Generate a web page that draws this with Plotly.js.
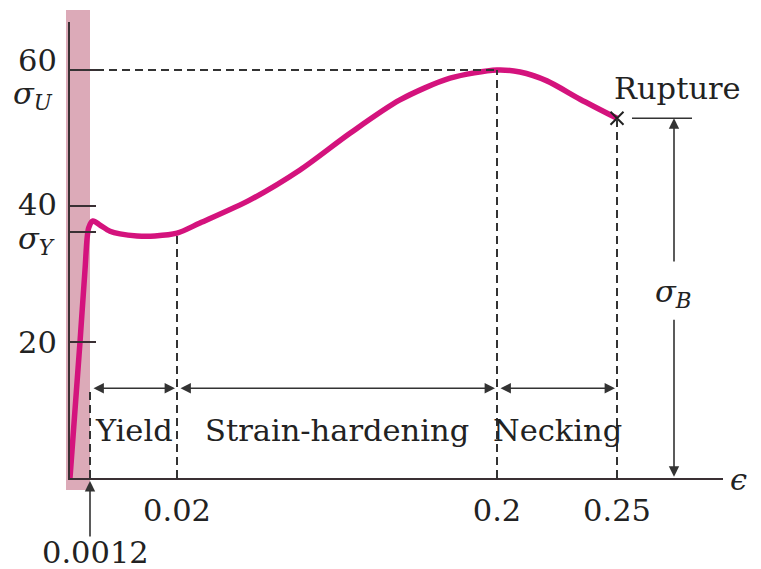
<!DOCTYPE html>
<html>
<head>
<meta charset="utf-8">
<script src="https://cdn.plot.ly/plotly-3.0.1.min.js"></script>
<style>html,body{margin:0;padding:0;background:#fff;}#chart{width:761px;height:569px;}</style>
</head>
<body>
<div id="chart"></div>
<script>
// ---- data ----
const strain = [0, 0.0006, 0.0009, 0.00112, 0.00185, 0.00336, 0.00552, 0.00768, 0.01136, 0.01524, 0.02, 0.0329, 0.0611, 0.0892, 0.1173, 0.1454, 0.1736, 0.2, 0.2096, 0.2208, 0.2346, 0.25];
const stress = [0, 20, 30.6, 36.8, 37.8, 37.2, 36.3, 35.9, 35.6, 35.6, 36.0, 37.5, 40.9, 45.3, 50.7, 55.6, 58.8, 60, 59.7, 58.4, 55.7, 52.9];
const keyStrains = [0.0012, 0.02, 0.2, 0.25];
const keyStrainLabels = ['0.0012', '0.02', '0.2', '0.25'];
const yTickValues = [20, 40, 60];
const yTickLabels = ['20', '40', '60'];
const yieldStress = 36.2;     // sigma_Y
const ultimateStress = 60;    // sigma_U
const ruptureStrain = [0.25];
const ruptureStress = [52.9]; // sigma_B
const regionNames = ['Yield', 'Strain-hardening', 'Necking'];
const regionStart = [0.0012, 0.02, 0.2];
const regionEnd = [0.02, 0.2, 0.25];

// ---- non-linear (schematic) strain axis: piecewise mapping ----
const mapKnotsStrain = [0, 0.0012, 0.02, 0.2, 0.25];
const mapKnotsPos = [0, 20, 107, 427, 547];
function sx(e) {
  const k = mapKnotsStrain, p = mapKnotsPos;
  for (let i = 0; i < k.length - 1; i++) {
    if (e <= k[i + 1]) return p[i] + (e - k[i]) / (k[i + 1] - k[i]) * (p[i + 1] - p[i]);
  }
  const n = k.length - 1;
  return p[n] + (e - k[n]) / (k[n] - k[n - 1]) * (p[n] - p[n - 1]);
}
function stressAt(e) { return stress[strain.indexOf(e)]; }

// ---- layout geometry ----
const L = 70, T = 22, W = 653, H = 456;   // plot area in px
const XR = [0, W], YR = [0, 67.06];
const px = x => (x - L) / W;              // page px -> paper
const py = y => (T + H - y) / H;
const FONT = 'DejaVu Serif, serif';
const FS = 30.5;
const INK = '#222';
const AX = '#3a3034';
const arrowY = 13.2, labelY = 7.0;

const shapes = [];
// pink elastic band
shapes.push({type: 'rect', xref: 'paper', yref: 'paper', x0: px(66), x1: sx(0.0012) / W, y0: py(490), y1: py(10),
  fillcolor: '#dcaab8', line: {width: 0}, layer: 'below'});
const dash = {color: '#333', width: 2, dash: '8px,5px'};
shapes.push({type: 'line', x0: sx(keyStrains[0]), x1: sx(keyStrains[0]), y0: 0, y1: arrowY, line: dash});
shapes.push({type: 'line', x0: sx(keyStrains[1]), x1: sx(keyStrains[1]), y0: 0, y1: stressAt(keyStrains[1]), line: dash});
shapes.push({type: 'line', x0: sx(keyStrains[2]), x1: sx(keyStrains[2]), y0: 0, y1: ultimateStress, line: dash});
shapes.push({type: 'line', x0: sx(keyStrains[3]), x1: sx(keyStrains[3]), y0: 0, y1: ruptureStress[0], line: dash});
shapes.push({type: 'line', x0: 0, x1: sx(0.2), y0: ultimateStress, y1: ultimateStress, line: dash});
shapes.push({type: 'line', x0: 562, x1: 622, y0: ruptureStress[0], y1: ruptureStress[0], line: {color: '#333', width: 1.5}});

const txt = (x, y, text, xanchor) => ({x: x, y: y, xref: 'paper', yref: 'paper', xanchor: xanchor || 'center',
  yanchor: 'middle', text: text, showarrow: false, font: {family: FONT, size: FS, color: INK}});
const arrowCommon = {text: '', showarrow: true, arrowhead: 2, arrowsize: 1.3, arrowwidth: 1.6, arrowcolor: '#333'};

const annotations = [];
for (let i = 0; i < regionNames.length; i++) {
  const a = sx(regionStart[i]) + 2, b = sx(regionEnd[i]) - 2;
  annotations.push(Object.assign({x: b, y: arrowY, ax: a, ay: arrowY, xref: 'x', yref: 'y', axref: 'x', ayref: 'y',
    arrowside: 'end+start'}, arrowCommon));
  annotations.push({x: (sx(regionStart[i]) + sx(regionEnd[i])) / 2, y: labelY, xref: 'x', yref: 'y',
    xanchor: 'center', yanchor: 'middle', text: regionNames[i], showarrow: false, font: {family: FONT, size: FS, color: INK}});
}
// sigma_B arrows
const xB = 604;
annotations.push(Object.assign({x: xB, y: ruptureStress[0], ax: xB, ay: 31.6, xref: 'x', yref: 'y', axref: 'x', ayref: 'y'}, arrowCommon));
annotations.push(Object.assign({x: xB, y: 0.2, ax: xB, ay: 23.5, xref: 'x', yref: 'y', axref: 'x', ayref: 'y'}, arrowCommon));
annotations.push(txt(px(673), py(293), '<i>σ</i><sub><i>B</i></sub>'));
annotations.push(txt(px(677), py(88), 'Rupture'));
// y labels
for (let i = 0; i < yTickValues.length; i++) {
  const yy = yTickValues[i] === ultimateStress ? py(60) : (yTickValues[i] === 40 ? py(204) : py(T + H - yTickValues[i] * H / YR[1]));
  annotations.push(txt(px(59), yy, yTickLabels[i], 'right'));
}
annotations.push(txt(px(55), py(95), '<i>σ</i><sub><i>U</i></sub>', 'right'));
annotations.push(txt(px(57), py(240), '<i>σ</i><sub><i>Y</i></sub>', 'right'));
// 0.0012 label with arrow
annotations.push(Object.assign({x: sx(keyStrains[0]) / W, y: py(481), xref: 'paper', yref: 'paper', ax: 0, ay: 57}, arrowCommon));
annotations.push(txt(px(95), py(552), keyStrainLabels[0]));
// epsilon
annotations.push(txt(px(739), py(480), '<i>ϵ</i>'));

const traces = [
  {x: strain.map(sx), y: stress, type: 'scatter', mode: 'lines',
   line: {color: '#d4137d', width: 5.5, shape: 'spline', smoothing: 0.8}, hoverinfo: 'skip'},
  {x: ruptureStrain.map(sx), y: ruptureStress, type: 'scatter', mode: 'markers',
   marker: {symbol: 'x-thin', size: 13, line: {color: '#222', width: 2}}, hoverinfo: 'skip'}
];

const layout = {
  width: 761, height: 569,
  margin: {l: L, r: 761 - L - W, t: T, b: 569 - T - H, pad: 0},
  paper_bgcolor: '#fff', plot_bgcolor: 'rgba(0,0,0,0)',
  showlegend: false,
  xaxis: {range: XR, showgrid: false, zeroline: false, showline: true, linecolor: AX, linewidth: 2,
    tickvals: keyStrains.slice(1).map(sx), ticktext: keyStrainLabels.slice(1), ticks: '',
    ticklabelstandoff: 4, tickfont: {family: FONT, size: FS, color: INK}, fixedrange: true},
  yaxis: {range: YR, showgrid: false, zeroline: false, showline: true, linecolor: AX, linewidth: 2,
    tickvals: yTickValues.concat([yieldStress]), ticks: 'inside', ticklen: 26, tickwidth: 2, tickcolor: AX,
    showticklabels: false, fixedrange: true},
  shapes: shapes,
  annotations: annotations
};

Plotly.newPlot('chart', traces, layout, {displayModeBar: false, staticPlot: true});
</script>
</body>
</html>
